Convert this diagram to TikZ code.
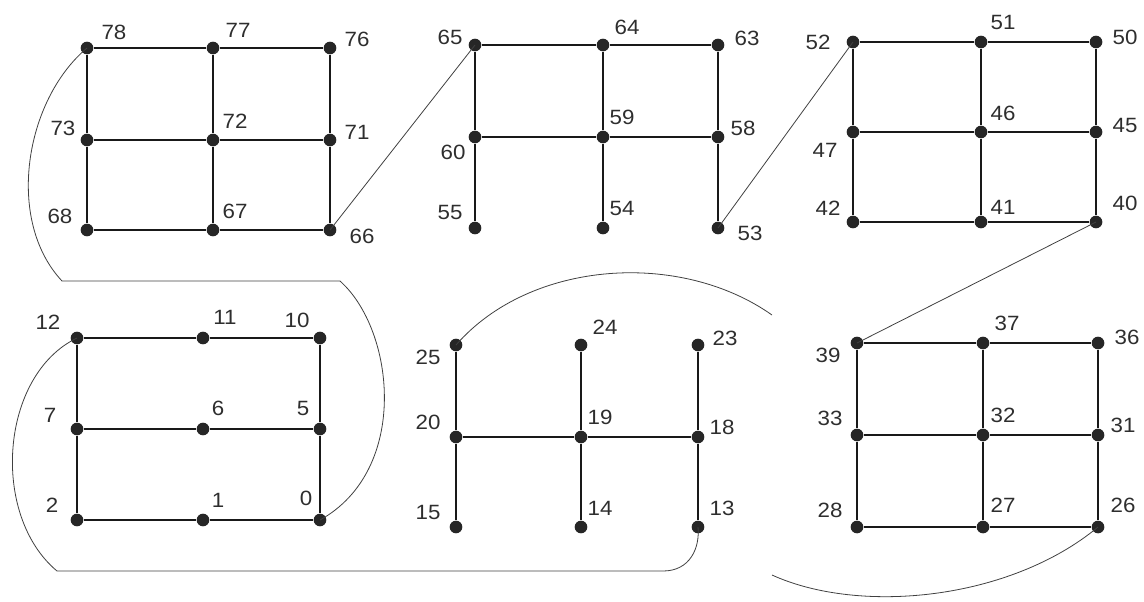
\documentclass[tikz,border=0pt]{standalone}
\usepackage{fontspec}
\setmainfont{Liberation Sans}
\newfontfamily\lblfont[FakeStretch=1.08]{Liberation Sans}
\begin{document}
\begin{tikzpicture}[x=0.75pt,y=-0.75pt,
  dot/.style={circle,fill=black!85,inner sep=0pt,minimum size=9.5pt},
  lbl/.style={inner sep=0pt,text=black!82,font=\lblfont\fontsize{15.5}{17}\selectfont},
  edge/.style={line width=1.5pt,black!90},
  link/.style={line width=0.6pt,black!75}]
\useasboundingbox (0,0) rectangle (1144,601);
% nodes
\foreach \n/\x/\y in {
 78/87/48,77/213/48,76/330/48,73/87/140,72/213/140,71/330/140,68/87/230,67/213/230,66/330/230,
 65/475/45,64/603/45,63/718/45,60/475/137,59/603/137,58/718/137,55/475/228,54/603/228,53/718/228,
 52/853/42,51/981/42,50/1096/42,47/853/132,46/981/132,45/1096/132,42/853/222,41/981/222,40/1096/222,
 12/77/338,11/203/338,10/320/338,7/77/429,6/203/429,5/320/429,2/77/520,1/203/520,0/320/520,
 25/456/345,24/581/345,23/698/345,20/456/437,19/581/437,18/698/437,15/456/527,14/581/527,13/698/527,
 39/857/343,37/983/343,36/1098/343,33/857/435,32/983/435,31/1098/435,28/857/527,27/983/527,26/1098/527}
 \node[dot] (n\n) at (\x,\y) {};
% labels
\foreach \n/\x/\y in {
 78/114/32,77/238/30,76/357/39,73/63/128,72/235/121,71/357/132,68/60/216,67/235/211,66/362/236,
 65/450/37,64/627/27,63/747/38,60/453/152,59/622/117,58/743/128,55/450/212,54/622/208,53/750/233,
 52/818/42,51/1003/22,50/1125/37,47/825/150,46/1003/113,45/1125/125,42/828/208,41/1003/207,40/1125/203,
 12/48/322,11/225/317,10/297/320,7/50/415,6/218/408,5/303/408,2/52/505,1/218/500,0/306/498,
 25/428/357,24/605/327,23/725/338,20/428/422,19/600/417,18/722/427,15/428/512,14/600/508,13/722/508,
 39/828/355,37/1007/323,36/1127/337,33/830/418,32/1003/415,31/1123/425,28/830/510,27/1003/505,26/1123/505}
 \node[lbl] (l\n) at (\x,\y) {\n};
% grid edges
\draw[edge] (n78)--(n77)--(n76) (n73)--(n72)--(n71) (n68)--(n67)--(n66)
  (n78)--(n73)--(n68) (n77)--(n72)--(n67) (n76)--(n71)--(n66);
\draw[edge] (n65)--(n64)--(n63) (n60)--(n59)--(n58)
  (n65)--(n60)--(n55) (n64)--(n59)--(n54) (n63)--(n58)--(n53);
\draw[edge] (n52)--(n51)--(n50) (n47)--(n46)--(n45) (n42)--(n41)--(n40)
  (n52)--(n47)--(n42) (n51)--(n46)--(n41) (n50)--(n45)--(n40);
\draw[edge] (n12)--(n11)--(n10) (n7)--(n6)--(n5) (n2)--(n1)--(n0)
  (n12)--(n7)--(n2) (n10)--(n5)--(n0);
\draw[edge] (n25)--(n20)--(n15) (n24)--(n19)--(n14) (n23)--(n18)--(n13)
  (n20)--(n19)--(n18);
\draw[edge] (n39)--(n37)--(n36) (n33)--(n32)--(n31) (n28)--(n27)--(n26)
  (n39)--(n33)--(n28) (n37)--(n32)--(n27) (n36)--(n31)--(n26);
% connectors
\coordinate (a1) at (62,281);
\coordinate (a2) at (340,281);
\coordinate (b1) at (57,571);
\coordinate (b2) at (663,571);
\coordinate (c1) at (772,315);
\coordinate (d1) at (772,575);
\draw[link] (n78.center) .. controls (25,100) and (5,220) .. (a1) -- (a2)
  .. controls (395,330) and (410,470) .. (n0.center);
\draw[link] (n12.center) .. controls (0,375) and (-10,515) .. (b1) -- (b2)
  .. controls (690,571) and (700,548) .. (n13.center);
\draw[link] (n25.center) .. controls (530,260) and (680,250) .. (c1);
\draw[link] (d1) .. controls (860,615) and (1010,600) .. (n26.center);
\draw[link] (n66.center) -- (n65.center);
\draw[link] (n53.center) -- (n52.center);
\draw[link] (n40.center) -- (n39.center);
\end{tikzpicture}
\end{document}
